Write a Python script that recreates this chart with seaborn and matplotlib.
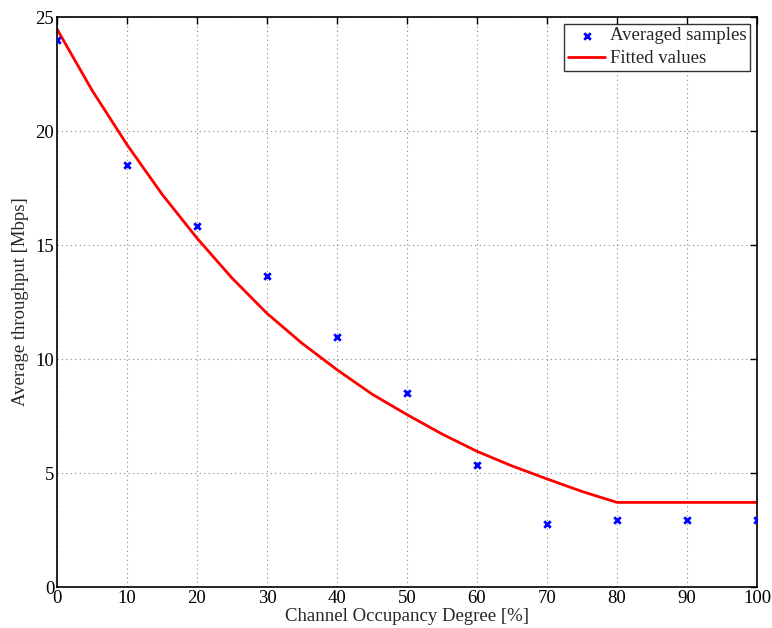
import numpy as np
import pandas as pd
import matplotlib
matplotlib.use("Agg")
import matplotlib.pyplot as plt
import seaborn as sns

sns.set_style("white")
plt.rcParams['font.family'] = ['Liberation Serif', 'DejaVu Serif']
plt.rcParams['mathtext.fontset'] = 'stix'

# averaged samples
occupancy = [0, 10, 20, 30, 40, 50, 60, 70, 80, 90, 100]
throughput = [24.0, 18.49, 15.85, 13.65, 10.95, 8.49, 5.33, 2.75, 2.96, 2.95, 2.94]

# fitted curve
fit_x = [0, 5, 10, 15, 20, 25, 30, 35, 40, 45, 50, 55, 60, 65, 70, 75, 80, 90, 100]
fit_y = [24.47, 21.79, 19.4, 17.23, 15.3, 13.55, 12.0, 10.69, 9.53, 8.46, 7.56,
         6.71, 5.95, 5.31, 4.74, 4.19, 3.71, 3.71, 3.71]

samples = pd.DataFrame({"occ": occupancy, "thr": throughput})
fitted = pd.DataFrame({"occ": fit_x, "thr": fit_y})

fig = plt.figure(figsize=(7.72, 6.28), dpi=100)
ax = fig.add_axes([57 / 772, 41 / 628, 700 / 772, 570 / 628])

sns.scatterplot(data=samples, x="occ", y="thr", ax=ax, marker="x", color="#0000ff",
                s=22, linewidth=2, label="Averaged samples", zorder=3)
sns.lineplot(data=fitted, x="occ", y="thr", ax=ax, color="#ff0000", linewidth=2,
             label="Fitted values", zorder=2)

ax.set_xlim(0, 100)
ax.set_ylim(0, 25)
ax.set_xticks(range(0, 101, 10))
ax.set_yticks(range(0, 26, 5))
ax.grid(True, color="#888888", linestyle=(0, (1, 3)), linewidth=0.8)
ax.tick_params(direction="in", length=5, width=1, top=True, right=True,
               labelsize=13.5, pad=2, colors="black")
for s in ax.spines.values():
    s.set_color("black")
    s.set_linewidth(1.2)

ax.set_xlabel("Channel Occupancy Degree [%]", fontsize=13.5, labelpad=1)
ax.set_ylabel("Average throughput [Mbps]", fontsize=13.5, labelpad=5)

leg = ax.legend(loc="upper right", fontsize=13.5, frameon=True, fancybox=False,
                edgecolor="black", borderpad=0.2, handlelength=2.0,
                handletextpad=0.25, labelspacing=0.3, borderaxespad=0.35)
leg.get_frame().set_linewidth(1.0)

fig.savefig("out.png", dpi=100)
